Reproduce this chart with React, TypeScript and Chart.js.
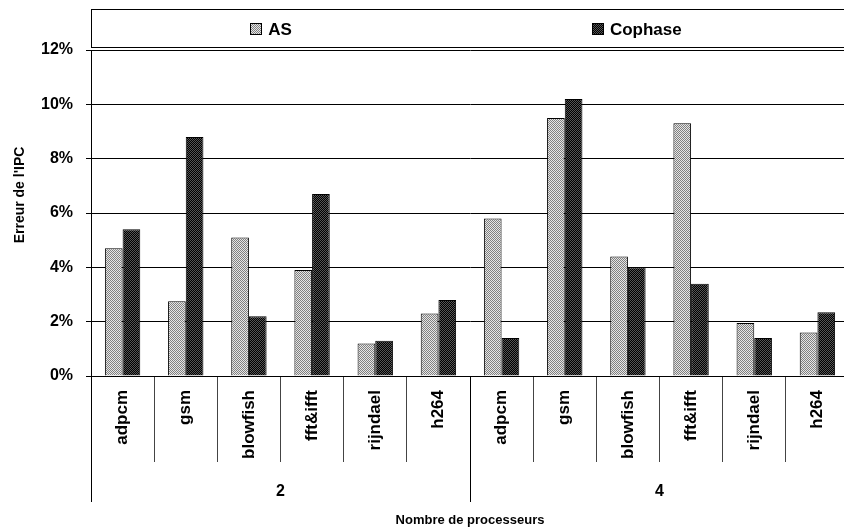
import React, { useEffect, useRef } from 'react';
import { Chart, registerables } from 'chart.js';

Chart.register(...registerables);

const processors = ['2', '4'];
const benchmarks = ['adpcm', 'gsm', 'blowfish', 'fft&ifft', 'rijndael', 'h264'];
const seriesNames = ['AS', 'Cophase'];
const asValues = [4.7, 2.75, 5.1, 3.9, 1.2, 2.3, 5.8, 9.5, 4.4, 9.3, 1.95, 1.6];
const cophaseValues = [5.4, 8.8, 2.2, 6.7, 1.3, 2.8, 1.4, 10.2, 4.0, 3.4, 1.4, 2.35];
const yTicks = [0, 2, 4, 6, 8, 10, 12];
const yTitle = "Erreur de l'IPC";
const xTitle = 'Nombre de processeurs';

const FONT = '"Liberation Sans", Arial, Helvetica, sans-serif';
const W = 849;
const H = 532;

const labels = processors.flatMap(() => benchmarks);

function makePattern(light: string, dark: string) {
  const c = document.createElement('canvas');
  c.width = 2;
  c.height = 2;
  const g = c.getContext('2d')!;
  g.fillStyle = light;
  g.fillRect(0, 0, 2, 2);
  g.fillStyle = dark;
  g.fillRect(0, 0, 1, 1);
  g.fillRect(1, 1, 1, 1);
  return g.createPattern(c, 'repeat')!;
}

const decor = {
  id: 'decor',
  afterDraw(chart: any) {
    const { ctx, chartArea, scales } = chart;
    const xs = scales.x;
    const { left, right, top, bottom } = chartArea;
    ctx.save();

    // group dividers + group labels
    const n = benchmarks.length;
    ctx.strokeStyle = '#000';
    ctx.lineWidth = 1;
    for (let g = 0; g <= processors.length; g++) {
      const px = Math.round(xs.getPixelForValue(g * n - 0.5)) + 0.5;
      ctx.beginPath();
      ctx.moveTo(px, bottom);
      ctx.lineTo(px, bottom + 126);
      ctx.stroke();
    }
    ctx.fillStyle = '#000';
    ctx.font = `bold 16px ${FONT}`;
    ctx.textAlign = 'center';
    ctx.textBaseline = 'middle';
    processors.forEach((p, g) => {
      const a = xs.getPixelForValue(g * n - 0.5);
      const b = xs.getPixelForValue((g + 1) * n - 0.5);
      ctx.fillText(p, (a + b) / 2, bottom + 116);
    });

    // y title
    ctx.save();
    ctx.translate(20, (top + bottom) / 2 - 18);
    ctx.rotate(-Math.PI / 2);
    ctx.font = `bold 14px ${FONT}`;
    ctx.fillText(yTitle, 0, 0);
    ctx.restore();

    // legend box
    ctx.strokeStyle = '#000';
    ctx.strokeRect(Math.round(left) + 0.5, 9.5, right - left, 38);
    ctx.font = `bold 17px ${FONT}`;
    ctx.textAlign = 'left';
    const gap = 300;
    const box = 12;
    const widths = seriesNames.map((s) => box + 6 + ctx.measureText(s).width);
    const total = widths.reduce((a, b) => a + b, 0) + gap * (widths.length - 1);
    let x = (left + right) / 2 - total / 2 - 4;
    chart.data.datasets.forEach((ds: any, i: number) => {
      ctx.fillStyle = ds.backgroundColor;
      ctx.fillRect(Math.round(x), 23, box, box);
      ctx.strokeStyle = '#000';
      ctx.strokeRect(Math.round(x) + 0.5, 23.5, box - 1, box - 1);
      ctx.fillStyle = '#000';
      ctx.fillText(seriesNames[i], x + box + 6, 30);
      x += widths[i] + gap;
    });
    ctx.restore();
  },
};

export default function App() {
  const ref = useRef<HTMLCanvasElement | null>(null);

  useEffect(() => {
    const canvas = ref.current!;
    const chart = new Chart(canvas, {
      type: 'bar',
      data: {
        labels,
        datasets: [
          {
            label: seriesNames[0],
            data: asValues,
            backgroundColor: makePattern('#e6e6e6', '#808080'),
            borderColor: '#000',
            borderWidth: 1,
          },
          {
            label: seriesNames[1],
            data: cophaseValues,
            backgroundColor: makePattern('#000000', '#555555'),
            borderColor: '#000',
            borderWidth: 1,
          },
        ],
      },
      options: {
        responsive: false,
        animation: false,
        devicePixelRatio: 1,
        layout: { padding: { top: 50, left: 0, right: 0, bottom: 0 } },
        datasets: { bar: { categoryPercentage: 0.56, barPercentage: 1 } } as any,
        plugins: {
          legend: { display: false },
          tooltip: { enabled: false },
        },
        scales: {
          x: {
            grid: {
              offset: true,
              drawOnChartArea: false,
              tickLength: 86,
              color: '#444',
              lineWidth: 1,
            },
            border: { color: '#000' },
            ticks: {
              autoSkip: false,
              minRotation: 90,
              maxRotation: 90,
              padding: -72,
              color: '#000',
              font: { family: FONT, size: 17, weight: 'bold' },
            },
            title: {
              display: true,
              text: xTitle,
              color: '#000',
              font: { family: FONT, size: 13, weight: 'bold' },
              padding: 4,
            },
            afterFit: (s: any) => {
              s.height = 156;
            },
          },
          y: {
            min: 0,
            max: 12,
            afterBuildTicks: (s: any) => {
              s.ticks = yTicks.map((v) => ({ value: v }));
            },
            ticks: {
              padding: 13,
              color: '#000',
              font: { family: FONT, size: 16, weight: 'bold' },
              callback: (v: any) => `${v}%`,
            },
            grid: { color: '#000', tickLength: 5, lineWidth: 1 },
            border: { color: '#000' },
            afterFit: (s: any) => {
              s.width = 91;
            },
          },
        },
      } as any,
      plugins: [decor],
    });
    return () => chart.destroy();
  }, []);

  return (
    <div
      style={{
        position: 'fixed',
        left: 0,
        top: 0,
        width: 844,
        height: 532,
        overflow: 'hidden',
        background: '#fff',
      }}
    >
      <canvas ref={ref} width={W} height={H} style={{ width: W, height: H, display: 'block' }} />
    </div>
  );
}
